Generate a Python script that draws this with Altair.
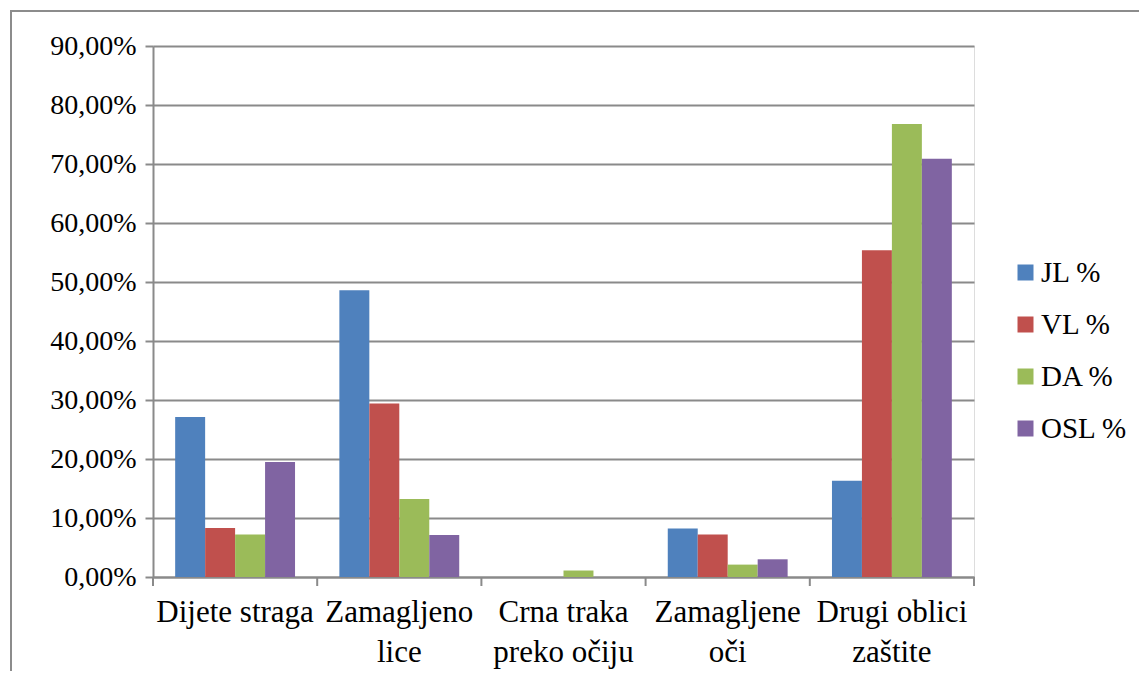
import altair as alt
import pandas as pd

categories = ["Dijete straga", "Zamagljeno lice", "Crna traka preko očiju", "Zamagljene oči", "Drugi oblici zaštite"]
label_lines = [["Dijete straga"], ["Zamagljeno", "lice"], ["Crna traka", "preko očiju"], ["Zamagljene", "oči"], ["Drugi oblici", "zaštite"]]
series = ["JL %", "VL %", "DA %", "OSL %"]
colors = ["#4F81BD", "#C0504D", "#9BBB59", "#8064A2"]
jl = [27.1, 48.6, 0.0, 8.2, 16.3]
vl = [8.3, 29.4, 0.0, 7.2, 55.4]
da = [7.2, 13.2, 1.1, 2.1, 76.8]
osl = [19.5, 7.1, 0.0, 3.0, 70.9]
y_ticks = [0, 10, 20, 30, 40, 50, 60, 70, 80, 90]

rows = []
for s, vals in zip(series, [jl, vl, da, osl]):
    for c, v in zip(categories, vals):
        rows.append({"cat": c, "series": s, "value": v})
df = pd.DataFrame(rows)
cat_df = pd.DataFrame({"cat": categories})
last_df = pd.DataFrame({"cat": categories[-1:]})

W, H = 821, 531
FONT = "Liberation Serif"
GRID = "#8a8a8a"
PI, PO = 0.27, 0.135
step = W / (len(categories) - PI + 2 * PO)
gap = PO * step  # half of the inner padding in pixels

label_expr = ""
for c, lines in zip(categories[:-1], label_lines[:-1]):
    arr = "[" + ",".join("'" + l + "'" for l in lines) + "]"
    label_expr += f"datum.label == '{c}' ? {arr} : "
label_expr += "[" + ",".join("'" + l + "'" for l in label_lines[-1]) + "]"

xscale = alt.Scale(domain=categories, paddingInner=PI, paddingOuter=PO)
xaxis = alt.Axis(labelAngle=0, labelExpr=label_expr, labelFont=FONT, labelFontSize=31,
                 labelColor="black", labelLineHeight=40, labelPadding=20,
                 ticks=False, domainColor=GRID, domainWidth=2, grid=False, labelLimit=300)

bars = alt.Chart(df).mark_bar(strokeWidth=0).encode(
    x=alt.X("cat:N", sort=categories, title=None, scale=xscale, axis=xaxis),
    xOffset=alt.XOffset("series:N", sort=series, scale=alt.Scale(paddingInner=0, paddingOuter=0)),
    y=alt.Y("value:Q", title=None,
            scale=alt.Scale(domain=[0, 90], nice=False),
            axis=alt.Axis(values=y_ticks, labelExpr="replace(format(datum.value, '.2f'), '.', ',') + '%'",
                          labelFont=FONT, labelFontSize=28, labelColor="black", labelPadding=9,
                          tickSize=8, tickColor=GRID, tickWidth=2, domainColor=GRID, domainWidth=2,
                          gridColor=GRID, gridWidth=2)),
    color=alt.Color("series:N", sort=series, scale=alt.Scale(domain=series, range=colors),
                    legend=alt.Legend(title=None, orient="none", legendX=858, legendY=212,
                                      symbolType="square", symbolSize=256, symbolStrokeWidth=0,
                                      labelFont=FONT, labelFontSize=29, labelColor="black",
                                      rowPadding=22, labelOffset=1)),
)

ticks_start = alt.Chart(cat_df).mark_rule(color=GRID, strokeWidth=2, xOffset=-gap).encode(
    x=alt.X("cat:N", sort=categories, title=None, scale=xscale, bandPosition=0, axis=xaxis),
    y=alt.value(H), y2=alt.value(H + 9),
)
ticks_end = alt.Chart(last_df).mark_rule(color=GRID, strokeWidth=2, xOffset=gap).encode(
    x=alt.X("cat:N", sort=categories, title=None, scale=xscale, bandPosition=1, axis=xaxis),
    y=alt.value(H), y2=alt.value(H + 9),
)

frame = alt.Chart(pd.DataFrame({"k": [0]})).mark_rect(fill=None, stroke="#8c8c8c", strokeWidth=2).encode(
    x=alt.value(-142), x2=alt.value(W + 300), y=alt.value(-35), y2=alt.value(H + 300)
)

chart = alt.layer(frame, bars, ticks_start, ticks_end).properties(
    width=W, height=H,
    autosize=alt.AutoSizeParams(type="none"),
    padding={"left": 145, "top": 38, "right": 165, "bottom": 94},
).configure_view(stroke=None).configure(background="white", font=FONT)

chart.save("out.html", embed_options={"renderer": "svg", "actions": False})
